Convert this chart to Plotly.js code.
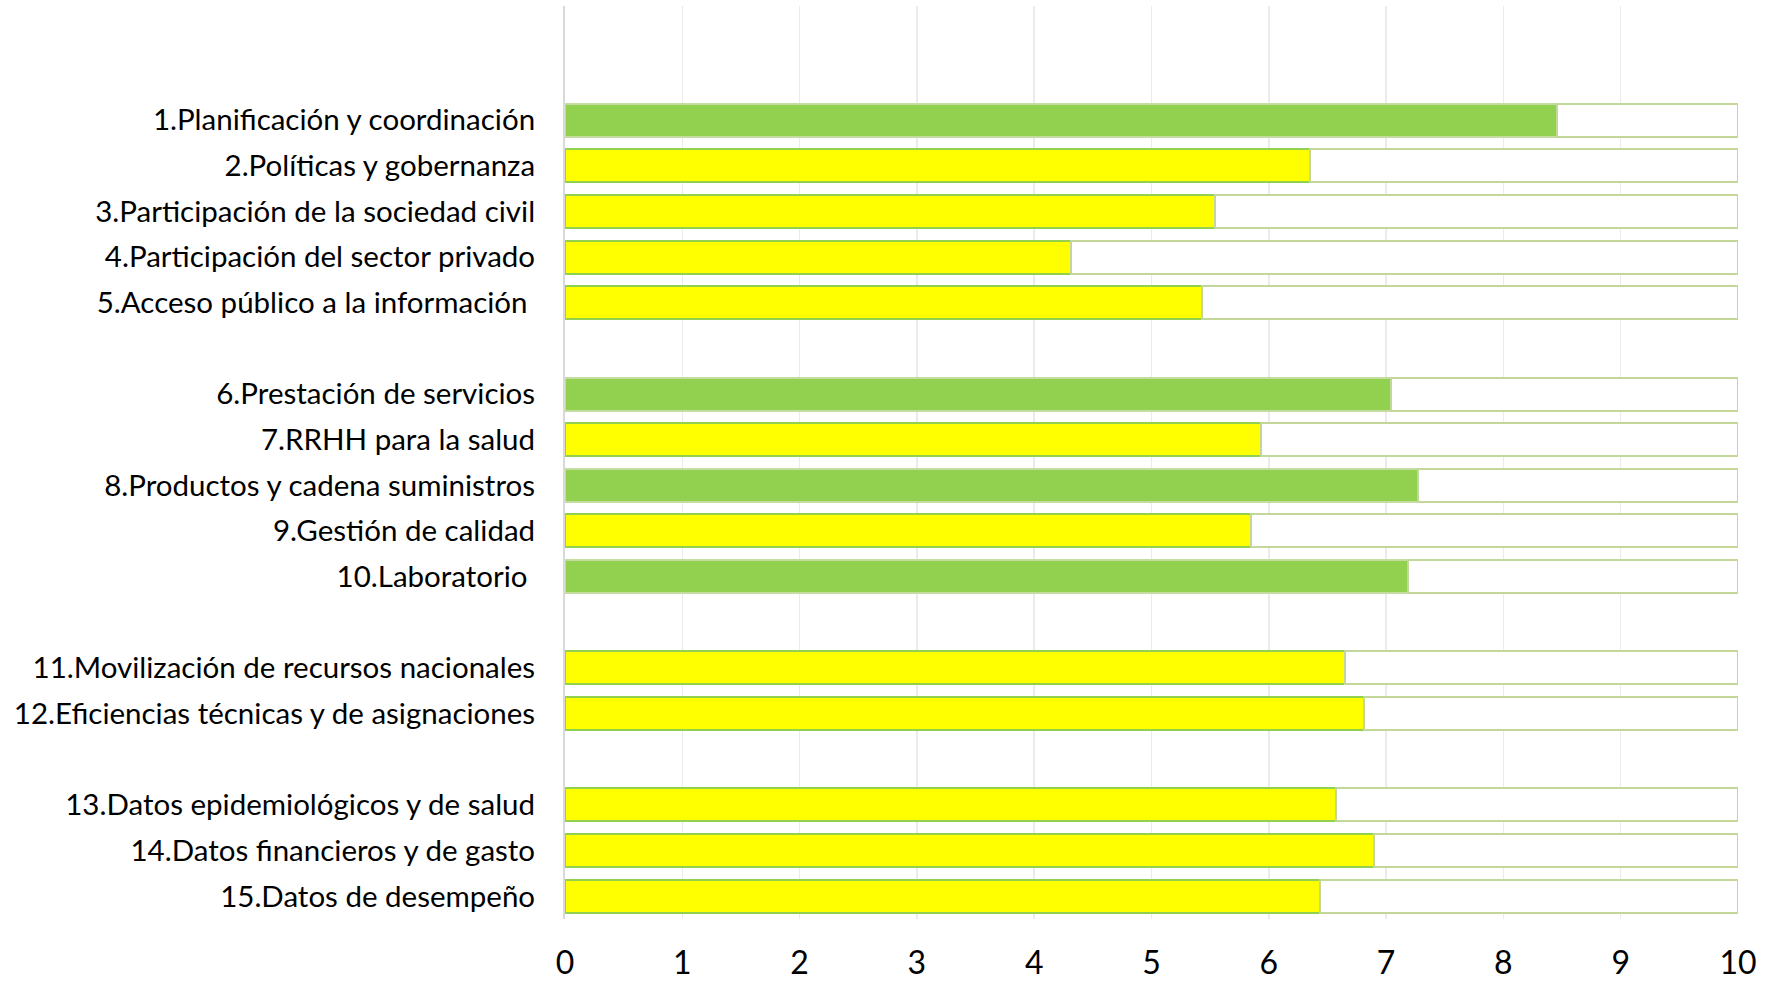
<!DOCTYPE html>
<html>
<head>
<meta charset="utf-8">
<script src="https://cdn.plot.ly/plotly-3.0.1.min.js"></script>
<style>
  html, body { margin: 0; padding: 0; background: #ffffff; }
  #chart { width: 1768px; height: 983px; }
</style>
</head>
<body>
<div id="chart"></div>
<script>
// Categories (gap entries separate the groups)
const categories = [
  "1.Planificación y coordinación",
  "2.Políticas y gobernanza",
  "3.Participación de la sociedad civil",
  "4.Participación del sector privado",
  "5.Acceso público a la información\u00a0",
  " ",
  "6.Prestación de servicios",
  "7.RRHH para la salud",
  "8.Productos y cadena suministros",
  "9.Gestión de calidad",
  "10.Laboratorio\u00a0",
  "  ",
  "11.Movilización de recursos nacionales",
  "12.Eficiencias técnicas y de asignaciones",
  "   ",
  "13.Datos epidemiológicos y de salud",
  "14.Datos financieros y de gasto",
  "15.Datos de desempeño"
];
const scores = [8.46, 6.35, 5.54, 4.31, 5.43, null, 7.04, 5.93, 7.27, 5.85, 7.19, null, 6.65, 6.81, null, 6.57, 6.90, 6.44];
const status = ["high", "mid", "mid", "mid", "mid", null, "high", "mid", "high", "mid", "high", null, "mid", "mid", null, "mid", "mid", "mid"];
const maxScore = 10;
const xTicks = [0, 1, 2, 3, 4, 5, 6, 7, 8, 9, 10];

const fillFor = s => s === "high" ? "#92D050" : "#FFFF00";
const lineFor = s => s === "high" ? "#C5DCA0" : "#92D050";

const remainder = scores.map(v => v === null ? null : maxScore - v);

const traceScore = {
  type: "bar",
  orientation: "h",
  y: categories,
  x: scores,
  marker: {
    color: status.map(fillFor),
    line: { color: status.map(lineFor), width: 2 }
  },
  hoverinfo: "x+y",
  showlegend: false
};
const traceRest = {
  type: "bar",
  orientation: "h",
  y: categories,
  x: remainder,
  marker: { color: "#FFFFFF", line: { color: "#C4D79B", width: 2 } },
  hoverinfo: "skip",
  showlegend: false
};

const layout = {
  width: 1768,
  height: 983,
  paper_bgcolor: "#FFFFFF",
  plot_bgcolor: "#FFFFFF",
  margin: { l: 565, r: 30, t: 6, b: 64 },
  barmode: "stack",
  bargap: 0.277,
  font: { family: "Lato, 'Open Sans', sans-serif", color: "#000000" },
  xaxis: {
    range: [0, 10],
    tickvals: xTicks,
    ticktext: xTicks.map(String),
    showgrid: true,
    gridcolor: "#EBEBEB",
    gridwidth: 1.5,
    zeroline: false,
    showline: false,
    ticks: "",
    ticklabelstandoff: 22,
    tickfont: { size: 32, family: "Lato, 'Open Sans', sans-serif", color: "#000000" },
    fixedrange: true
  },
  yaxis: {
    type: "category",
    categoryorder: "array",
    categoryarray: categories,
    range: [17.5, -2.5],
    showgrid: false,
    zeroline: false,
    showline: true,
    linecolor: "#D9D9D9",
    linewidth: 2,
    ticks: "",
    ticklabelstandoff: 22,
    tickfont: { size: 29.5, family: "Lato, 'Open Sans', sans-serif", color: "#000000" },
    fixedrange: true
  }
};

Plotly.newPlot("chart", [traceScore, traceRest], layout, { displayModeBar: false, staticPlot: true });
</script>
</body>
</html>
